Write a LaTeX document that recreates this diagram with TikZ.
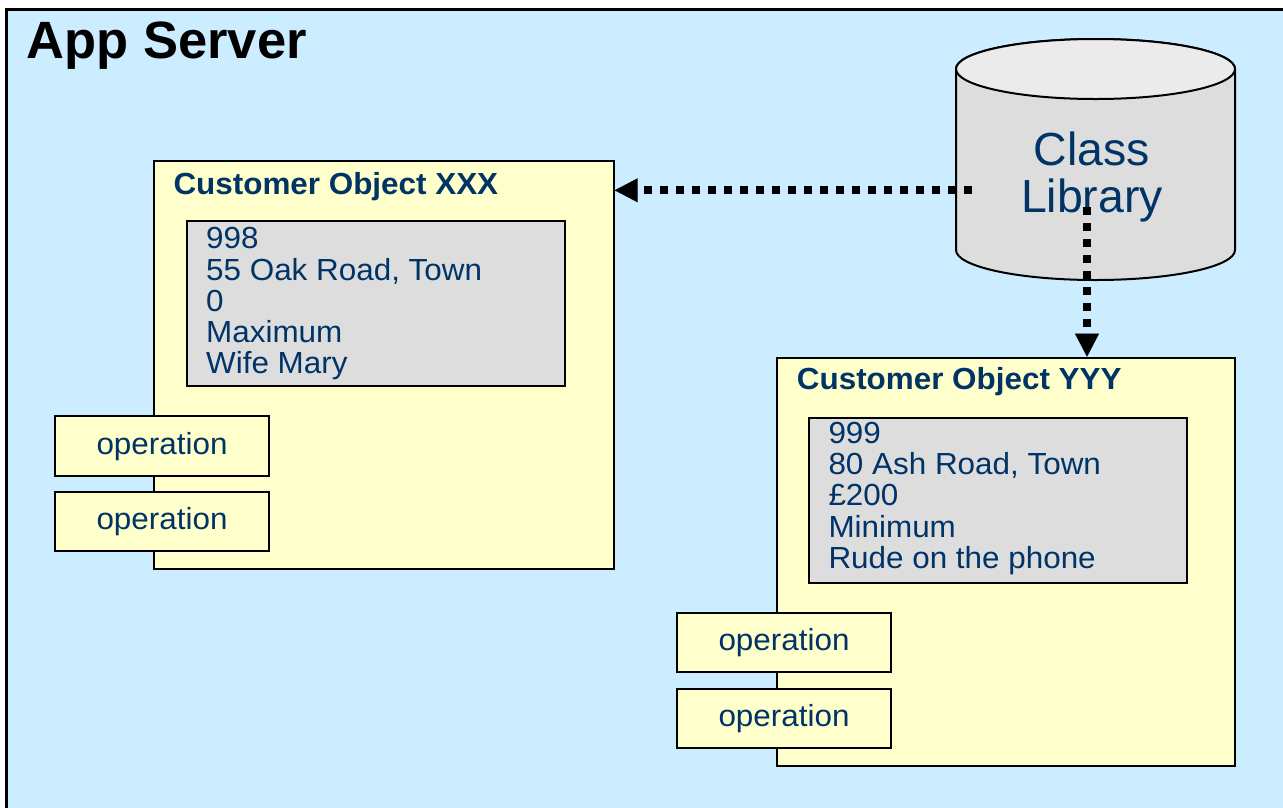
\documentclass[tikz,border=0pt]{standalone}
\usepackage{fontspec}
\setmainfont{Liberation Sans}
\newfontfamily\bodyfont[FakeStretch=1.03]{Liberation Sans}
\usetikzlibrary{arrows.meta}
\definecolor{bgblue}{HTML}{CCECFF}
\definecolor{objyellow}{HTML}{FFFFCC}
\definecolor{datagray}{HTML}{DDDDDD}
\definecolor{toplight}{HTML}{EBEBEB}
\definecolor{navy}{HTML}{003366}
\tikzset{
  objbox/.style={draw=black, line width=2pt, fill=objyellow, anchor=north west, inner sep=0pt},
  databox/.style={draw=black, line width=2pt, fill=datagray, anchor=north west, inner sep=0pt},
  opbox/.style={draw=black, line width=2pt, fill=objyellow, inner sep=0pt,
    minimum width=213.5pt, minimum height=59.5pt, text=navy,
    font=\bodyfont\fontsize{30.5}{31}\selectfont, text height=21.5pt, text depth=4.9pt},
  titletext/.style={anchor=base west, inner sep=0pt, text=navy,
    font=\bodyfont\bfseries\fontsize{30.5}{31}\selectfont},
  datatext/.style={anchor=base west, inner sep=0pt, text=navy,
    font=\bodyfont\fontsize{30.5}{31}\selectfont},
  dotarrow/.style={line width=8pt, dash pattern=on 8pt off 8pt,
    -{Triangle[length=23pt,width=24pt,line width=0.1pt]}},
  cylline/.style={draw=black, line width=2pt},
}
\begin{document}
\begin{tikzpicture}[x=1pt,y=-1pt]
\useasboundingbox (0,0) rectangle (1283,807);
\clip (0,0) rectangle (1283,807);
% outer frame
\draw[line width=3pt, fill=bgblue] (6.5,9) rectangle (1300,830);
\node[anchor=base west, inner sep=0pt, font=\bfseries\fontsize{52.5}{60}\selectfont] (apptitle) at (26.5,58.3) {App Server};

% Customer Object XXX
\node[objbox, minimum width=459.7pt, minimum height=408.3pt] (xxx) at (153,160) {};
\node[titletext] (xxxtitle) at (173.3,194) {Customer Object XXX};
\node[databox, minimum width=377.5pt, minimum height=165pt] (xxxdata) at (186,220) {};
\node[datatext] (xxxvals) at (206,248.7) {\begin{tabular}[t]{@{}l@{}}998\\55 Oak Road, Town\\0\\Maximum\\Wife Mary\end{tabular}};
\node[opbox] (xop1) at (162,445.8) {operation};
\node[opbox] (xop2) at (162,521.5) {operation};

% Customer Object YYY
\node[objbox, minimum width=458.3pt, minimum height=408.3pt] (yyy) at (776,356.7) {};
\node[titletext] (yyytitle) at (796.7,389) {Customer Object YYY};
\node[databox, minimum width=377.4pt, minimum height=165pt] (yyydata) at (808.3,416.7) {};
\node[datatext] (yyyvals) at (828.3,443.3) {\begin{tabular}[t]{@{}l@{}}999\\80 Ash Road, Town\\£200\\Minimum\\Rude on the phone\end{tabular}};
\node[opbox] (yop1) at (784,642.5) {operation};
\node[opbox] (yop2) at (784,718.4) {operation};

% Class Library cylinder
\draw[cylline, fill=datagray] (956,69) -- (956,250)
  arc[start angle=180, end angle=360, x radius=139.5pt, y radius=30pt]
  -- (1235,69)
  arc[start angle=0, end angle=180, x radius=139.5pt, y radius=30pt] -- cycle;
\draw[cylline, fill=toplight] (1095.5,69) ellipse [x radius=139.5pt, y radius=30pt];
\node[anchor=base, inner sep=0pt, text=navy, font=\fontsize{46.4}{45.7}\selectfont] (lib) at (1092,165)
  {\begin{tabular}[t]{@{}c@{}}Class\\Library\end{tabular}};

% connectors
\coordinate (hstart) at (972,190.3);
\draw[dotarrow] (hstart) -- (hstart -| xxx.east);
\coordinate (vstart) at (1087,207);
\draw[dotarrow] (vstart) -- (vstart |- yyy.north);
\end{tikzpicture}
\end{document}
